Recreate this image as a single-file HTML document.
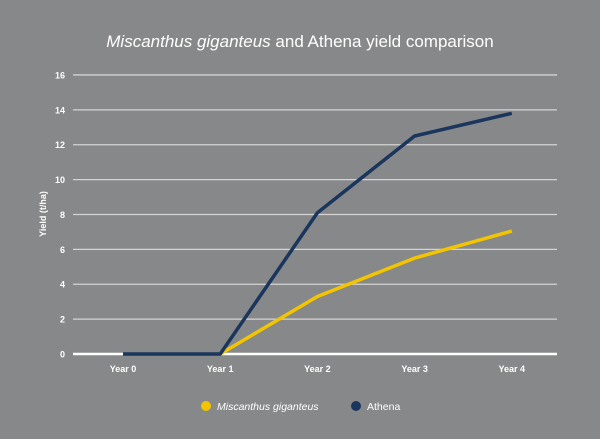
<!DOCTYPE html>
<html><head><meta charset="utf-8"><style>
body{margin:0;background:#878889;}
svg{display:block;font-family:"Liberation Sans",sans-serif;}
</style></head><body>
<svg id="c" width="600" height="439">
<rect width="600" height="439" fill="#878889"/>
<text x="300" y="47" text-anchor="middle" font-size="17" fill="#fff"><tspan font-style="italic">Miscanthus giganteus</tspan> and Athena yield comparison</text>
<text transform="translate(46,214) rotate(-90)" text-anchor="middle" font-size="9" font-weight="bold" fill="#fff">Yield (t/ha)</text>
<g id="grid"></g><g id="series"></g>
<g>
<circle cx="206" cy="406" r="5" fill="#f2c500"/>
<text x="217" y="410" font-size="10.5" font-style="italic" fill="#fff">Miscanthus giganteus</text>
<circle cx="356" cy="406" r="5" fill="#1b365d"/>
<text x="367" y="410" font-size="10.5" fill="#fff">Athena</text>
</g>
</svg>
<script>
const categories=["Year 0","Year 1","Year 2","Year 3","Year 4"];
const athena=[0,0,8.1,12.5,13.8];
const miscanthus=[null,0,3.3,5.5,7.05];
const yTicks=[0,2,4,6,8,10,12,14,16];
const NS="http://www.w3.org/2000/svg";
const x=i=>123+i*97.2;
const y=v=>354-v*17.44;
const grid=document.getElementById('grid'),ser=document.getElementById('series');
function mk(t,a,p){const e=document.createElementNS(NS,t);for(const k in a)e.setAttribute(k,a[k]);p.appendChild(e);return e;}
yTicks.forEach(v=>{
 const l=mk('line',{x1:73,x2:557,y1:y(v),y2:y(v),stroke:v===0?'#fff':'#d4d4d4','stroke-width':v===0?2.5:1.3},grid);
 
 
 const t=mk('text',{x:65,y:y(v)+3.5,'text-anchor':'end','font-size':9,'font-weight':'bold',fill:'#fff'},grid);
 t.textContent=v;
 
 
});
categories.forEach((c,i)=>{
 const t=mk('text',{x:x(i),y:372,'text-anchor':'middle','font-size':9,'font-weight':'bold',fill:'#fff'},grid);
 t.textContent=c;
 
 
});
function line(arr,col,name){
 const pts=[];arr.forEach((v,i)=>{if(v!==null)pts.push(x(i)+','+y(v));});
 const p=mk('polyline',{points:pts.join(' '),fill:'none',stroke:col,'stroke-width':3.5,'stroke-linejoin':'round'},ser);
 
 
}
line(miscanthus,'#f2c500','series-miscanthus');
line(athena,'#1b365d','series-athena');
</script>
</body></html>
